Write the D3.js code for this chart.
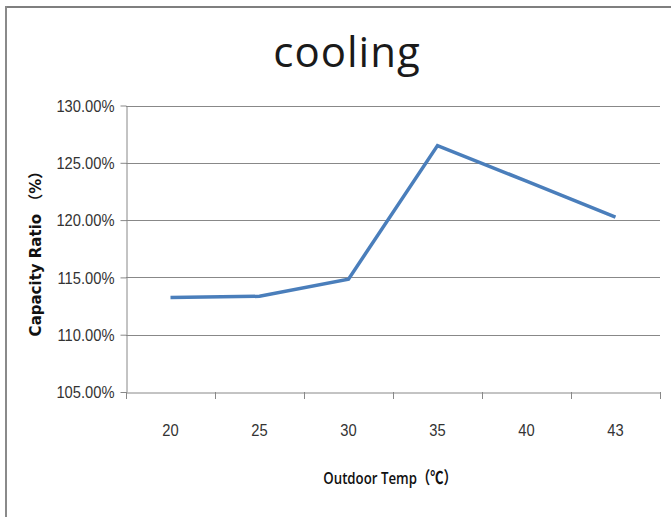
<!DOCTYPE html>
<html>
<head>
<meta charset="utf-8">
<script src="https://cdn.jsdelivr.net/npm/d3@7"></script>
<style>
  html, body { margin: 0; padding: 0; background: #fff; }
  svg { display: block; }
</style>
</head>
<body>
<svg id="chart" width="671" height="517"></svg>
<script>
const categories = ["20", "25", "30", "35", "40", "43"];
const capacityRatio = [113.25, 113.35, 114.85, 126.5, 123.4, 120.25];
const yTicks = [105, 110, 115, 120, 125, 130];
const titleText = "cooling";
const xTitle = "Outdoor Temp（℃）";
const yTitle = "Capacity Ratio （%）";

const svg = d3.select("#chart");
const W = 671, H = 517;
const plot = { left: 126, right: 660, top: 105.5, bottom: 392 };

// outer frame
svg.append("line").attr("x1", 5).attr("x2", W).attr("y1", 7).attr("y2", 7)
  .attr("stroke", "#7f7f7f").attr("stroke-width", 2);
svg.append("line").attr("x1", 6).attr("x2", 6).attr("y1", 6).attr("y2", H)
  .attr("stroke", "#8a8a8a").attr("stroke-width", 2);

const x = d3.scaleBand().domain(categories).range([plot.left, plot.right]).paddingInner(0).paddingOuter(0);
const y = d3.scaleLinear().domain([105, 130]).range([plot.bottom, plot.top]);

const gridColor = "#888888";
const tickFont = "'Liberation Sans', Arial, sans-serif";

// gridlines
svg.append("g").selectAll("line").data(yTicks.filter(d => d !== 105)).join("line")
  .attr("x1", plot.left).attr("x2", plot.right)
  .attr("y1", d => Math.round(y(d)) + 0.5).attr("y2", d => Math.round(y(d)) + 0.5)
  .attr("stroke", gridColor).attr("stroke-width", 1);

// y axis
const yScaleX = 0.92;
const yAxis = svg.append("g").attr("transform", `translate(${plot.left + 0.5},0)`)
  .call(d3.axisLeft(y).tickValues(yTicks).tickSize(6).tickSizeOuter(0)
    .tickFormat(d => d.toFixed(2) + "%"));
yAxis.select(".domain").attr("stroke", gridColor);
yAxis.selectAll(".tick line").attr("stroke", gridColor);
yAxis.selectAll(".tick text")
  .attr("font-family", tickFont).attr("font-size", 16).attr("fill", "#333")
  .attr("x", -12 / yScaleX).attr("dy", "0.36em")
  .attr("transform", `scale(${yScaleX},1)`);

// x axis
const xAxis = svg.append("g").attr("transform", `translate(0,${plot.bottom + 0.5})`)
  .call(d3.axisBottom(x).tickSize(0).tickSizeOuter(0));
xAxis.select(".domain").attr("stroke", gridColor);
xAxis.selectAll(".tick text")
  .attr("font-family", tickFont).attr("font-size", 16).attr("fill", "#333")
  .attr("y", 44).attr("dy", 0)
  .attr("transform", "scale(0.92,1)");
// band boundary ticks
const bounds = categories.map(c => x(c)).concat([x(categories[categories.length - 1]) + x.bandwidth()]);
svg.append("g").selectAll("line").data(bounds).join("line")
  .attr("x1", d => Math.round(d) + 0.5).attr("x2", d => Math.round(d) + 0.5)
  .attr("y1", plot.bottom).attr("y2", plot.bottom + 7)
  .attr("stroke", gridColor).attr("stroke-width", 1);

// line
const line = d3.line()
  .x((d, i) => x(categories[i]) + x.bandwidth() / 2)
  .y(d => y(d));
svg.append("path").datum(capacityRatio)
  .attr("d", line)
  .attr("fill", "none").attr("stroke", "#4a7ebb").attr("stroke-width", 3.5)
  .attr("stroke-linejoin", "miter").attr("stroke-linecap", "butt");

// title
svg.append("text").attr("x", 347).attr("y", 67).attr("text-anchor", "middle")
  .attr("font-family", "'Open Sans', sans-serif").attr("font-size", 42)
  .attr("letter-spacing", 1).attr("fill", "#1a1a1a").text(titleText);

// x title
svg.append("g").attr("transform", "translate(390,484) scale(0.78,1)")
  .append("text").attr("text-anchor", "middle")
  .attr("font-family", "'Open Sans', 'Noto Sans CJK SC', sans-serif")
  .attr("font-weight", 600).attr("font-size", 17).attr("fill", "#111")
  .text(xTitle);

// y title
svg.append("text").attr("transform", "translate(41,250) rotate(-90)")
  .attr("text-anchor", "middle")
  .attr("font-family", "'DejaVu Sans', 'Noto Sans CJK SC', sans-serif")
  .attr("font-weight", "bold").attr("font-size", 15).attr("fill", "#111")
  .text(yTitle);
</script>
</body>
</html>
